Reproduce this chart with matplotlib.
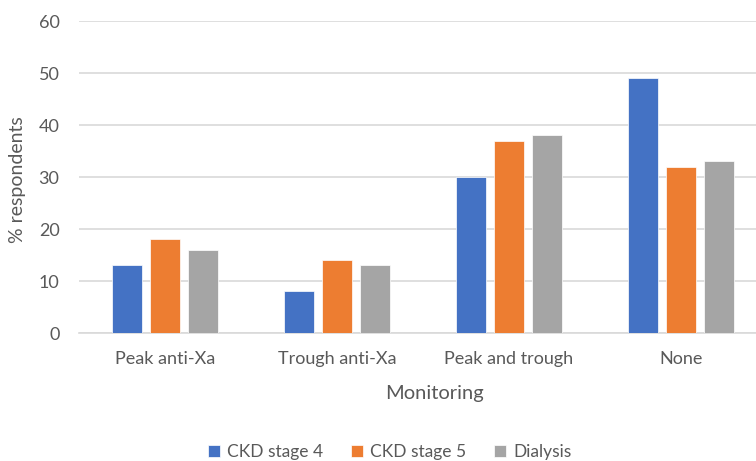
import matplotlib.pyplot as plt
import numpy as np

categories = ["Peak anti-Xa", "Trough anti-Xa", "Peak and trough", "None"]
series_names = ["CKD stage 4", "CKD stage 5", "Dialysis"]
ckd4 = [13, 8, 30, 49]
ckd5 = [18, 14, 37, 32]
dialysis = [16, 13, 38, 33]
yticks = [0, 10, 20, 30, 40, 50, 60]

colors = ["#4472C4", "#ED7D31", "#A5A5A5"]
text_color = "#595959"
plt.rcParams['font.family'] = ['Lato', 'DejaVu Sans']

fig = plt.figure(figsize=(7.56, 4.61), dpi=100)
W, H = 756, 461
left, right, top, bottom = 79, 767, 21, 333
ax = fig.add_axes([left / W, 1 - bottom / H, (right - left) / W, (bottom - top) / H])

x = np.arange(len(categories))
bw = 30 / 172
step = 38 / 172
for i, (vals, name) in enumerate(zip([ckd4, ckd5, dialysis], series_names)):
    ax.bar(x + (i - 1) * step, vals, width=bw, color=colors[i], label=name,
           edgecolor="white", linewidth=0.5, zorder=3)

ax.set_xlim(-0.5, len(categories) - 0.5)
ax.set_ylim(0, 60)
ax.set_yticks(yticks)
ax.set_xticks(x)
ax.set_xticklabels(categories)
ax.yaxis.grid(True, color="#D9D9D9", linewidth=1.2, zorder=0)
for s in ["top", "right", "left"]:
    ax.spines[s].set_visible(False)
ax.spines["bottom"].set_color("#D9D9D9")
ax.spines["bottom"].set_linewidth(1.2)
ax.tick_params(axis="both", length=0, labelsize=13, colors=text_color)
ax.tick_params(axis="y", pad=14)
ax.tick_params(axis="x", pad=13)

fig.text(18 / W, 1 - 180 / H, "% respondents", fontsize=14, color=text_color,
         rotation=90, ha="center", va="center")
fig.text(435 / W, 1 - 393 / H, "Monitoring", fontsize=14.5, color=text_color,
         ha="center", va="center")

leg = fig.legend(loc="center", bbox_to_anchor=(390 / W, 1 - 452 / H), ncol=3,
                 frameon=False, fontsize=12.5, handlelength=0.7, handleheight=0.7,
                 handletextpad=0.4, columnspacing=1.6)
for t in leg.get_texts():
    t.set_color(text_color)

fig.savefig("out.png", dpi=100)
